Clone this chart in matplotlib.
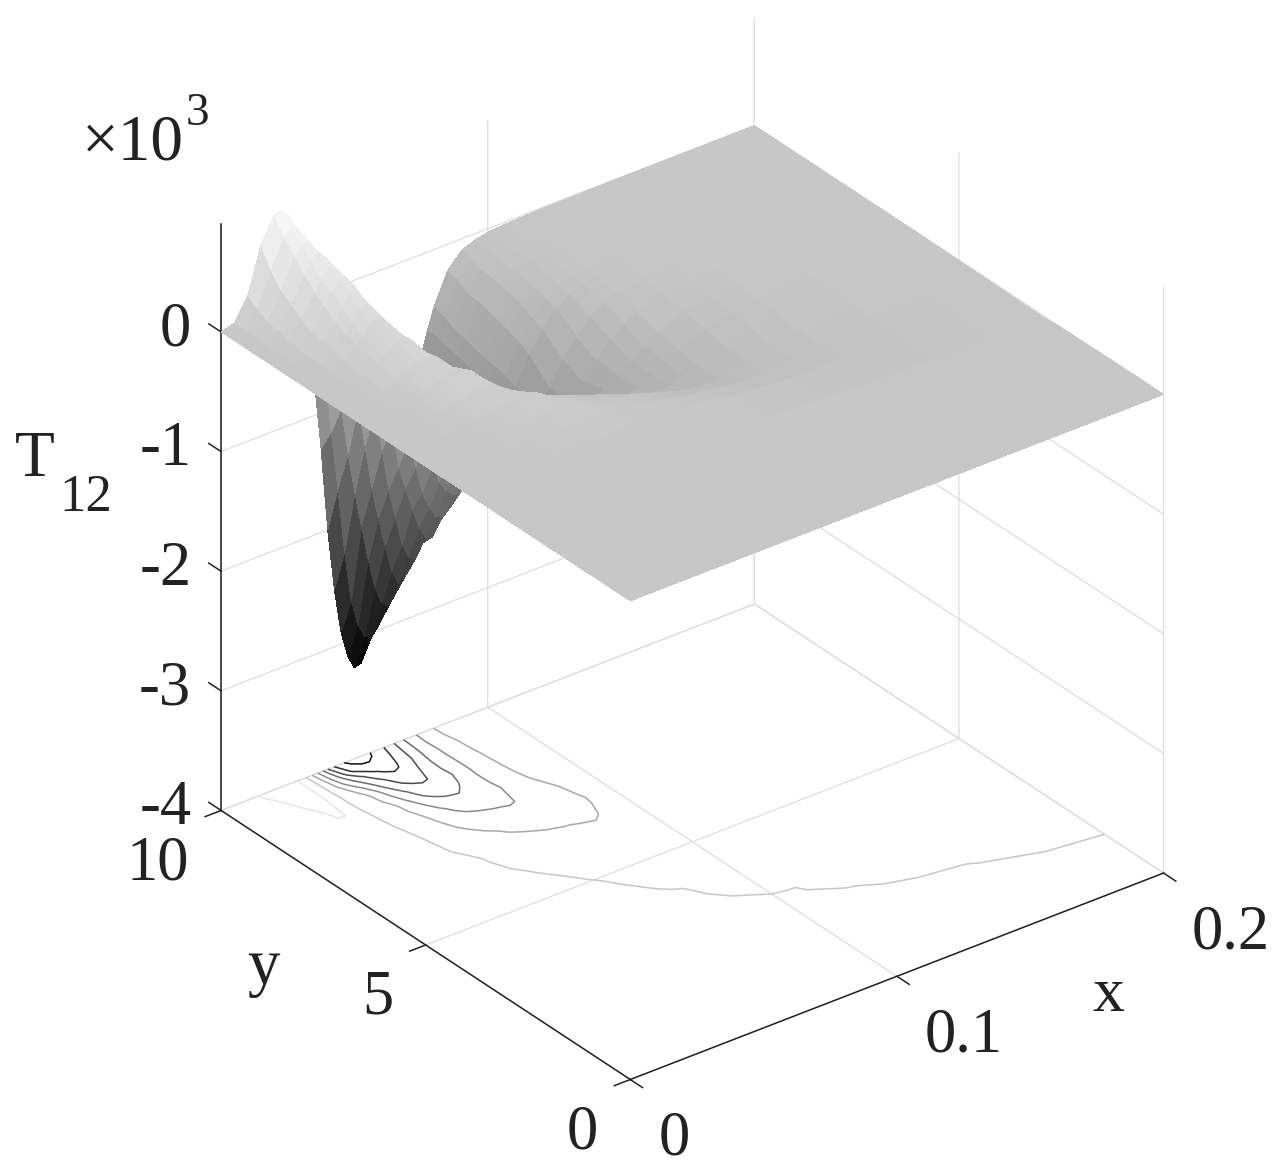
import numpy as np
import matplotlib
matplotlib.use("Agg")
import matplotlib.pyplot as plt
from matplotlib.transforms import Affine2D

plt.rcParams['font.family'] = ['Liberation Serif', 'DejaVu Serif']

x_values = [0, .005, .01, .015, .02,
            .0225, .025, .0275, .03,
            .0325, .035, .0375, .04,
            .0425, .045, .0475, .05,
            .0525, .055, .0575, .06,
            .0625, .065, .0675, .07,
            .0725, .075, .0775, .08,
            .085, .09, .095, .1,
            .105, .11, .12, .13,
            .14, .16, .18, .2]
y_values = [0, 1, 2, 2.5, 3, 4, 4.5, 5, 5.5, 6, 6.5, 7, 7.5, 8, 8.25, 8.5, 8.75, 9, 9.25, 9.5, 9.75, 10]

T12_y0 = [.001] * 41
T12_y1 = [.001] * 38 + [.002, .002, .002]
T12_y2 = [.001] * 33 + [.0012, .0012, .0012, .0013, .001, -.0002, -.0015, -.0025]
T12_y25 = [.001] * 34 + [.0008, .0003, -.001, -.003, -.006, -.007, -.005]
T12_y3 = [.001, .001, .001, .001, .001, .001, .001, .002, .002, .002, .002, .002, .002, .003, .003, .003, .003,
          .003, .004, .005, .005, .005, .005, .006, .006, .006, .006, .006, .006, .007, .007, .007, .003,
          .0005, -.0004, -.008, -.02, -.03, -.04, -.03, -.016]
T12_y4 = [.001, .001, .002, .004, .006, .008, .01, .012, .014, .016, .018, .02, .022, .024, .026, .028, .03,
          .033, .035, .036, .035, .033, .03, .025, .02, .015, .01, .005, .001, -.004, -.012, -.025, -.05,
          -.06, -.07, -.085, -.09, -.08, -.05, -.022, -.01]
T12_y45 = [.001, .001, .003, .006, .011, .015, .019, .023, .027, .031, .035, .039, .043, .047, .05, .053, .056,
           .058, .06, .058, .052, .04, .025, .012, .001, -.006, -.014, -.022, -.032, -.05, -.07, -.09, -.108,
           -.125, -.138, -.14, -.115, -.08, -.035, -.014, -.007]
T12_y5 = [.001, .001, .003, .008, .015, .02, .025, .03, .035, .04, .045, .05, .055, .06, .065, .07, .08,
          .075, .065, .05, .025, .002, -.008, -.02, -.032, -.045, -.058, -.07, -.085, -.12, -.155, -.19, -.215,
          -.22, -.205, -.155, -.11, -.07, -.025, -.01, -.005]
T12_y55 = [.001, .0015, .005, .012, .025, .035, .045, .055, .065, .072, .08, .085, .09, .095, .095, .09, .07,
           .03, .002, -.02, -.04, -.06, -.08, -.1, -.12, -.14, -.16, -.18, -.2, -.24, -.28, -.305, -.3,
           -.27, -.23, -.15, -.095, -.05, -.014, -.005, -.003]
T12_y6 = [.001, .002, .008, .02, .04, .055, .07, .085, .1, .11, .12, .12, .11, .08, .04, .003, -.03,
          -.06, -.09, -.12, -.15, -.17, -.2, -.22, -.25, -.27, -.29, -.31, -.33, -.38, -.42, -.39, -.33,
          -.26, -.2, -.115, -.07, -.035, -.01, -.004, -.002]
T12_y65 = [.001, .0025, .012, .03, .06, .08, .11, .13, .15, .16, .16, .15, .12, .05, -.02, -.07, -.12,
           -.17, -.22, -.27, -.32, -.36, -.39, -.42, -.45, -.47, -.49, -.5, -.52, -.54, -.47, -.4, -.33,
           -.24, -.17, -.08, -.04, -.02, -.006, -.003, -.002]
T12_y7 = [.001, .003, .015, .04, .09, .12, .15, .18, .2, .19, .16, .07, -.03, -.09, -.14, -.2, -.28,
          -.35, -.42, -.48, -.55, -.59, -.63, -.67, -.7, -.72, -.74, -.75, -.74, -.65, -.52, -.38, -.25,
          -.17, -.11, -.06, -.03, -.015, -.005, -.002, -.001]
T12_y75 = [.001, .004, .02, .06, .12, .16, .2, .24, .27, .22, .12, .0, -.1, -.2, -.3, -.41, -.53,
           -.63, -.72, -.8, -.85, -.9, -.94, -.97, -1.0, -.99, -.94, -.87, -.78, -.63, -.44, -.3, -.18,
           -.11, -.07, -.03, -.015, -.009, -.004, -.002, -.001]
T12_y8 = [.001, .006, .03, .08, .16, .22, .29, .33, .3, .15, .02, -.12, -.22, -.33, -.45, -.6, -.78,
          -.92, -1.08, -1.2, -1.27, -1.31, -1.33, -1.3, -1.22, -1.09, -.96, -.82, -.7, -.47, -.3, -.18, -.1,
          -.06, -.04, -.018, -.01, -.006, -.003, -.001, -.001]
T12_y825 = [.001, .007, .035, .1, .2, .28, .36, .38, .33, .12, -.03, -.18, -.3, -.42, -.55, -.78, -.96,
            -1.18, -1.33, -1.43, -1.48, -1.5, -1.42, -1.32, -1.2, -1.05, -.92, -.78, -.66, -.42, -.26, -.15, -.085,
            -.05, -.033, -.016, -.008, -.005, -.003, -.001, -.001]
T12_y85 = [.001, .008, .04, .12, .25, .35, .43, .47, .36, .08, -.06, -.22, -.33, -.44, -.66, -.95, -1.22,
           -1.46, -1.6, -1.7, -1.72, -1.68, -1.55, -1.43, -1.24, -1.05, -.9, -.76, -.64, -.38, -.22, -.13, -.07,
           -.045, -.03, -.014, -.008, -.005, -.002, -.001, -.001]
T12_y875 = [.001, .009, .05, .15, .32, .42, .5, .5, .37, .05, -.12, -.27, -.42, -.6, -.9, -1.25, -1.45,
            -1.65, -1.82, -1.93, -1.95, -1.85, -1.7, -1.5, -1.28, -1.08, -.9, -.75, -.62, -.36, -.2, -.11, -.06,
            -.04, -.028, -.013, -.007, -.004, -.002, -.001, -.001]
T12_y9 = [.001, .01, .06, .2, .38, .47, .55, .52, .38, .02, -.15, -.33, -.47, -.78, -1.15, -1.5, -1.75,
          -2.0, -2.13, -2.17, -2.06, -1.86, -1.67, -1.46, -1.25, -1.07, -.9, -.73, -.6, -.33, -.18, -.09, -.05,
          -.033, -.025, -.012, -.006, -.004, -.002, -.001, -.001]
T12_y925 = [.001, .015, .09, .27, .47, .56, .62, .56, .4, .03, -.22, -.45, -.8, -1.15, -1.52, -1.8, -2.05,
            -2.28, -2.41, -2.37, -2.2, -1.97, -1.72, -1.47, -1.25, -1.06, -.88, -.7, -.57, -.3, -.16, -.085, -.045,
            -.03, -.022, -.011, -.006, -.004, -.002, -.001, -.001]
T12_y95 = [.001, .02, .12, .33, .57, .64, .66, .56, .42, -.02, -.35, -.85, -1.25, -1.6, -1.9, -2.2, -2.45,
           -2.6, -2.66, -2.58, -2.35, -2.12, -1.87, -1.53, -1.3, -1.07, -.85, -.68, -.55, -.29, -.15, -.08, -.04,
           -.027, -.02, -.01, -.006, -.004, -.002, -.001, -.001]
T12_y975 = [.001, .02, .16, .44, .68, .73, .7, .58, .4, -.08, -.53, -1.1, -1.6, -2.15, -2.58, -2.8, -2.92,
            -2.95, -2.88, -2.72, -2.48, -2.2, -1.92, -1.6, -1.28, -1.04, -.84, -.65, -.5, -.24, -.12, -.065, -.035,
            -.023, -.017, -.009, -.006, -.004, -.002, -.001, -.001]
T12_y10 = [.001, .03, .22, .6, .81, .82, .76, .62, .38, -.1, -.72, -1.3, -2.0, -2.52, -2.9, -3.12, -3.24,
           -3.22, -3.08, -2.87, -2.62, -2.33, -1.99, -1.65, -1.26, -1.06, -.85, -.65, -.47, -.22, -.1, -.055, -.03,
           -.02, -.015, -.008, -.005, -.003, -.002, -.001, -.001]

contour_levels = [-3, -2.5, -2, -1.5, -1, -.5, 0, .5]
x_ticks = [0, .1, .2]
x_tick_labels = ['0', '0.1', '0.2']
y_ticks = [0, 5, 10]
y_tick_labels = ['0', '5', '10']
z_ticks = [-4, -3, -2, -1, 0]
z_tick_labels = ['-4', '-3', '-2', '-1', '0']

X, Y = np.meshgrid(x_values, y_values)
Z = np.array([T12_y0, T12_y1, T12_y2, T12_y25, T12_y3, T12_y4, T12_y45, T12_y5, T12_y55, T12_y6, T12_y65, T12_y7,
              T12_y75, T12_y8, T12_y825, T12_y85, T12_y875, T12_y9, T12_y925, T12_y95, T12_y975, T12_y10])

W, H = 1282, 1175
fig = plt.figure(figsize=(W / 100, H / 100), dpi=100)
S = 1134
left, bottom = 110, 44
ax = fig.add_axes([left / W, bottom / H, S / W, S / H], projection='3d', proj_type='ortho')
ax.computed_zorder = False
ax.patch.set_alpha(0)
ax.view_init(elev=30.3, azim=-127.5)
ax.set_box_aspect((1, 1, 1.01))
ax.set_xlim(0, .2)
ax.set_ylim(0, 10)
ax.set_zlim(-4, .9)

ax.contour(X, Y, Z, levels=contour_levels, zdir='z', offset=-4, cmap='gray',
           vmin=-3.25, vmax=.92, linewidths=1.1, zorder=1)
ax.plot_surface(X, Y, Z, cmap='gray', vmin=-3.25, vmax=.92, rstride=1, cstride=1,
                linewidth=0, antialiased=False, shade=False, zorder=2)

ax.set_xticks(x_ticks, x_tick_labels)
ax.set_yticks(y_ticks, y_tick_labels)
ax.set_zticks(z_ticks, z_tick_labels)
offsets = {ax.xaxis: ('left', 7, -16), ax.yaxis: ('right', -5, -13), ax.zaxis: ('right', 19, -2)}

for axis, (ha, dx, dy) in offsets.items():
    axis.set_tick_params(labelsize=45, pad=14, colors='#222222')
    axis.pane.set_visible(False)
    axis.line.set_color('#222222')
    axis.line.set_linewidth(1.1)
    axis._axinfo['grid'].update(color='#dddddd', linewidth=0.9)
    axis._axinfo['tick'].update(inward_factor=0.0, outward_factor=0.0)
    for tick in axis.get_major_ticks():
        label = tick.label1
        label.set_ha(ha)
        label.set_va('center')
        label._transform = ax.transData + Affine2D().translate(dx, dy)
        label.set_transform = lambda t: None

# Tick marks: short strokes pointing away from the box at each tick position.
tick_style = dict(color='#222222', linewidth=1.1, zorder=1)
for xt in x_ticks:
    ax.plot([xt, xt], [0, -.3], [-4, -4], **tick_style)
for yt in y_ticks:
    ax.plot([0, -.006], [yt, yt], [-4, -4], **tick_style)
for zt in z_ticks:
    ax.plot([0, 0], [10, 10.3], [zt, zt], **tick_style)


def fig_text(px, py, s, **kw):
    fig.text(px / W, 1 - py / H, s, ha='center', va='center', color='#222222', **kw)


fig_text(1108, 996, 'x', fontsize=46)
fig_text(263, 968, 'y', fontsize=47)
fig_text(35, 460, 'T', fontsize=47)
fig_text(86, 498, '12', fontsize=38)
fig_text(133, 144, '×10', fontsize=47)
fig_text(197, 114, '3', fontsize=34)

fig.savefig('out.png', dpi=100)
